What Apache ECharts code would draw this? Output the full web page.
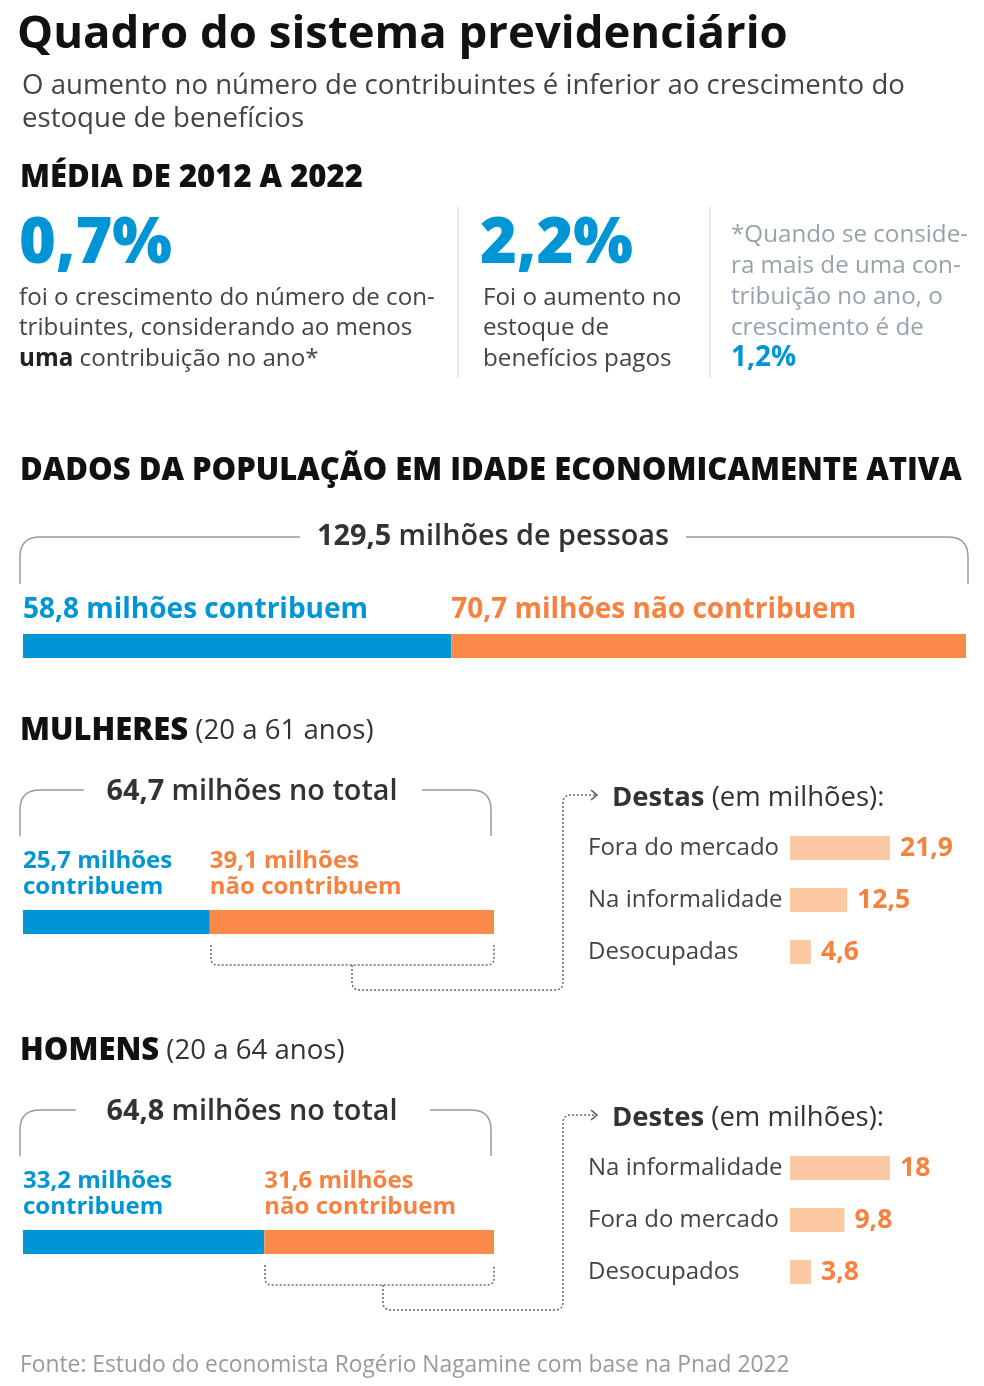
<!DOCTYPE html>
<html><head><meta charset="utf-8">
<script src="https://cdn.jsdelivr.net/npm/echarts@6/dist/echarts.min.js"></script>
<style>html,body{margin:0;padding:0;background:#fff}#c{width:984px;height:1386px}</style>
</head><body><div id="c"></div>
<script>
// ---------- DATA ----------
const popTotal = 129.5;
const popValues = [58.8, 70.7];          // contribuem, não contribuem
const womenTotal = 64.7;
const womenValues = [25.7, 39.1];
const menTotal = 64.8;
const menValues = [33.2, 31.6];
const womenCats = ['Fora do mercado', 'Na informalidade', 'Desocupadas'];
const womenSub = [21.9, 12.5, 4.6];
const menCats = ['Na informalidade', 'Fora do mercado', 'Desocupados'];
const menSub = [18, 9.8, 3.8];
const kpiValues = ['0,7%', '2,2%', '1,2%'];

// ---------- STYLE ----------
const FONT = '"Open Sans", "Noto Sans", sans-serif';
const BLUE = '#0096d6', ORANGE = '#fb8a4a', ORANGE_T = '#f7813f', PEACH = '#fcc9a3';
const DARK = '#111', GREY = '#444', MID = '#333', LIGHT = '#97a3ab', LINE = '#9a9a9a', DOT = '#666';
const fmt = v => String(v).replace('.', ',');
const DY = 2;

function T(x, y, text, size, weight, color, extra) {
  return {
    type: 'text', x: x, y: y + DY, silent: true,
    style: Object.assign({
      text: text, fontSize: size, fontWeight: weight, fontFamily: FONT, fill: color,
      align: 'left', verticalAlign: 'middle'
    }, extra || {})
  };
}
// polyline through corner points with rounded corners of radius r
function R(pts, r, color, dash, w) {
  const out = [pts[0]];
  for (let i = 1; i < pts.length - 1; i++) {
    const p0 = pts[i - 1], p1 = pts[i], p2 = pts[i + 1];
    const d1 = Math.hypot(p1[0] - p0[0], p1[1] - p0[1]);
    const d2 = Math.hypot(p2[0] - p1[0], p2[1] - p1[1]);
    const rr = Math.min(r, d1 / 2, d2 / 2);
    const a = [p1[0] + (p0[0] - p1[0]) * rr / d1, p1[1] + (p0[1] - p1[1]) * rr / d1];
    const b = [p1[0] + (p2[0] - p1[0]) * rr / d2, p1[1] + (p2[1] - p1[1]) * rr / d2];
    for (let t = 0; t <= 1.0001; t += 0.1) {
      const u = 1 - t;
      out.push([u * u * a[0] + 2 * u * t * p1[0] + t * t * b[0], u * u * a[1] + 2 * u * t * p1[1] + t * t * b[1]]);
    }
  }
  out.push(pts[pts.length - 1]);
  return { type: 'polyline', silent: true, shape: { points: out },
    style: { fill: null, stroke: color, lineWidth: w || 1.5, lineDash: dash || null } };
}

const graphic = [
  T(17, 33, 'Quadro do sistema previdenciário', 45.5, 'bold', DARK),
  T(22, 84, 'O aumento no número de contribuintes é inferior ao crescimento do', 27.6, 'normal', GREY),
  T(22, 117, 'estoque de benefícios', 27.6, 'normal', GREY),
  T(20, 176, 'MÉDIA DE 2012 A 2022', 31, 800, DARK),
  T(19, 243, kpiValues[0], 63, 800, BLUE),
  T(19, 296, 'foi o crescimento do número de con-', 24.2, 'normal', GREY),
  T(19, 326, 'tribuintes, considerando ao menos', 24.2, 'normal', GREY),
  T(19, 357, '{b|uma} contribuição no ano*', 24.2, 'normal', GREY,
    { rich: { b: { fontSize: 24.2, fontWeight: 'bold', fontFamily: FONT, fill: '#222' } } }),
  { type: 'line', silent: true, shape: { x1: 458, y1: 207, x2: 458, y2: 378 }, style: { stroke: '#cfcfcf', lineWidth: 1 } },
  T(480, 243, kpiValues[1], 63, 800, BLUE),
  T(483, 296, 'Foi o aumento no', 24.2, 'normal', GREY),
  T(483, 326, 'estoque de', 24.2, 'normal', GREY),
  T(483, 357, 'benefícios pagos', 24.2, 'normal', GREY),
  { type: 'line', silent: true, shape: { x1: 710, y1: 207, x2: 710, y2: 378 }, style: { stroke: '#cfcfcf', lineWidth: 1 } },
  T(731, 233, '*Quando se conside-', 24.2, 'normal', LIGHT),
  T(731, 264, 'ra mais de uma con-', 24.2, 'normal', LIGHT),
  T(731, 295, 'tribuição no ano, o', 24.2, 'normal', LIGHT),
  T(731, 326, 'crescimento é de', 24.2, 'normal', LIGHT),
  T(731, 356, kpiValues[2], 28, 'bold', BLUE),

  T(20, 469, 'DADOS DA POPULAÇÃO EM IDADE ECONOMICAMENTE ATIVA', 31, 800, DARK),
  // main bracket
  R([[20, 584], [20, 537], [300, 537]], 20, LINE),
  R([[686, 537], [968, 537], [968, 584]], 20, LINE),
  T(493, 535, '{b|' + fmt(popTotal) + '} milhões de pessoas', 28.8, 600, MID,
    { align: 'center', rich: { b: { fontSize: 28.8, fontWeight: 'bold', fontFamily: FONT, fill: MID } } }),

  // women
  T(20, 729, '{b|MULHERES} (20 a 61 anos)', 27.6, 'normal', MID,
    { rich: { b: { fontSize: 31, fontWeight: 800, fontFamily: FONT, fill: DARK } } }),
  R([[20, 836], [20, 790], [84, 790]], 20, LINE),
  R([[422, 790], [491, 790], [491, 836]], 20, LINE),
  T(252, 790, '{b|' + fmt(womenTotal) + '} milhões no total', 28.8, 600, MID,
    { align: 'center', rich: { b: { fontSize: 28.8, fontWeight: 'bold', fontFamily: FONT, fill: MID } } }),
  R([[211, 945], [211, 965], [494, 965], [494, 945]], 7, DOT, [2, 2]),
  R([[352, 965], [352, 990], [563, 990], [563, 795], [596, 795]], 8, DOT, [2, 2]),
  R([[591, 790], [597, 795], [591, 800]], 0, '#555', null, 1.5),
  T(612, 796, '{b|Destas} (em milhões):', 27.5, 'normal', MID,
    { rich: { b: { fontSize: 27.5, fontWeight: 'bold', fontFamily: FONT, fill: MID } } }),

  // men
  T(20, 1049, '{b|HOMENS} (20 a 64 anos)', 27.6, 'normal', MID,
    { rich: { b: { fontSize: 31, fontWeight: 800, fontFamily: FONT, fill: DARK } } }),
  R([[20, 1156], [20, 1110], [76, 1110]], 20, LINE),
  R([[430, 1110], [491, 1110], [491, 1156]], 20, LINE),
  T(252, 1110, '{b|' + fmt(menTotal) + '} milhões no total', 28.8, 600, MID,
    { align: 'center', rich: { b: { fontSize: 28.8, fontWeight: 'bold', fontFamily: FONT, fill: MID } } }),
  R([[265, 1265], [265, 1285], [494, 1285], [494, 1265]], 7, DOT, [2, 2]),
  R([[383, 1285], [383, 1310], [563, 1310], [563, 1115], [596, 1115]], 8, DOT, [2, 2]),
  R([[591, 1110], [597, 1115], [591, 1120]], 0, '#555', null, 1.5),
  T(612, 1116, '{b|Destes} (em milhões):', 27.5, 'normal', MID,
    { rich: { b: { fontSize: 27.5, fontWeight: 'bold', fontFamily: FONT, fill: MID } } }),

  T(20, 1364, 'Fonte: Estudo do economista Rogério Nagamine com base na Pnad 2022', 22.8, 'normal', '#9a9a9a')
];

// ---------- GRIDS / AXES / SERIES ----------
const grids = [
  { left: 23, width: 943, top: 634, height: 24 },
  { left: 23, width: 471, top: 910, height: 24 },
  { left: 23, width: 471, top: 1230, height: 24 },
  { left: 790, width: 100, top: 822, height: 156 },
  { left: 790, width: 100, top: 1142, height: 156 }
].map(g => Object.assign({ outerBoundsMode: 'none', containLabel: false }, g));

const stackSets = [popValues, womenValues, menValues];
const xAxes = [], yAxes = [], series = [];
stackSets.forEach((vals, i) => {
  xAxes.push({ type: 'value', gridIndex: i, min: 0, max: vals[0] + vals[1], show: false });
  yAxes.push({ type: 'category', gridIndex: i, data: ['total'], show: false });
});
[[womenCats, womenSub], [menCats, menSub]].forEach((p, j) => {
  const gi = 3 + j;
  xAxes.push({ type: 'value', gridIndex: gi, min: 0, max: Math.max.apply(null, p[1]), show: false });
  yAxes.push({ type: 'category', gridIndex: gi, data: p[0], inverse: true,
    axisLine: { show: false }, axisTick: { show: false },
    axisLabel: { align: 'left', margin: 202, fontSize: 24, fontFamily: FONT, color: GREY, padding: [4, 0, 0, 0] } });
});

const labelTexts = [
  [v => fmt(v) + ' milhões contribuem', v => fmt(v) + ' milhões não contribuem'],
  [v => fmt(v) + ' milhões\ncontribuem', v => fmt(v) + ' milhões\nnão contribuem'],
  [v => fmt(v) + ' milhões\ncontribuem', v => fmt(v) + ' milhões\nnão contribuem']
];
stackSets.forEach((vals, i) => {
  const big = i === 0;
  [0, 1].forEach(k => {
    series.push({
      type: 'bar', xAxisIndex: i, yAxisIndex: i, stack: 's' + i, barWidth: 24,
      silent: true, animation: false,
      itemStyle: { color: k === 0 ? BLUE : ORANGE },
      label: {
        show: true, position: [0, big ? -9 : -10], align: 'left', verticalAlign: 'bottom',
        formatter: p => labelTexts[i][k](p.value),
        fontFamily: FONT, fontWeight: 'bold', fontSize: big ? 28 : 24, lineHeight: big ? 30 : 26,
        color: k === 0 ? BLUE : ORANGE_T
      },
      data: [vals[k]]
    });
  });
});
[womenSub, menSub].forEach((vals, j) => {
  series.push({
    type: 'bar', xAxisIndex: 3 + j, yAxisIndex: 3 + j, barWidth: 24, silent: true, animation: false,
    itemStyle: { color: PEACH },
    label: { show: true, position: 'right', distance: 10, formatter: p => fmt(p.value),
      fontFamily: FONT, fontWeight: 'bold', fontSize: 26.5, color: ORANGE_T, padding: [4, 0, 0, 0] },
    data: vals
  });
});

const chart = echarts.init(document.getElementById('c'), null, { renderer: 'canvas' });
chart.setOption({
  animation: false,
  backgroundColor: '#fff',
  grid: grids, xAxis: xAxes, yAxis: yAxes, series: series, graphic: graphic
});
</script></body></html>
